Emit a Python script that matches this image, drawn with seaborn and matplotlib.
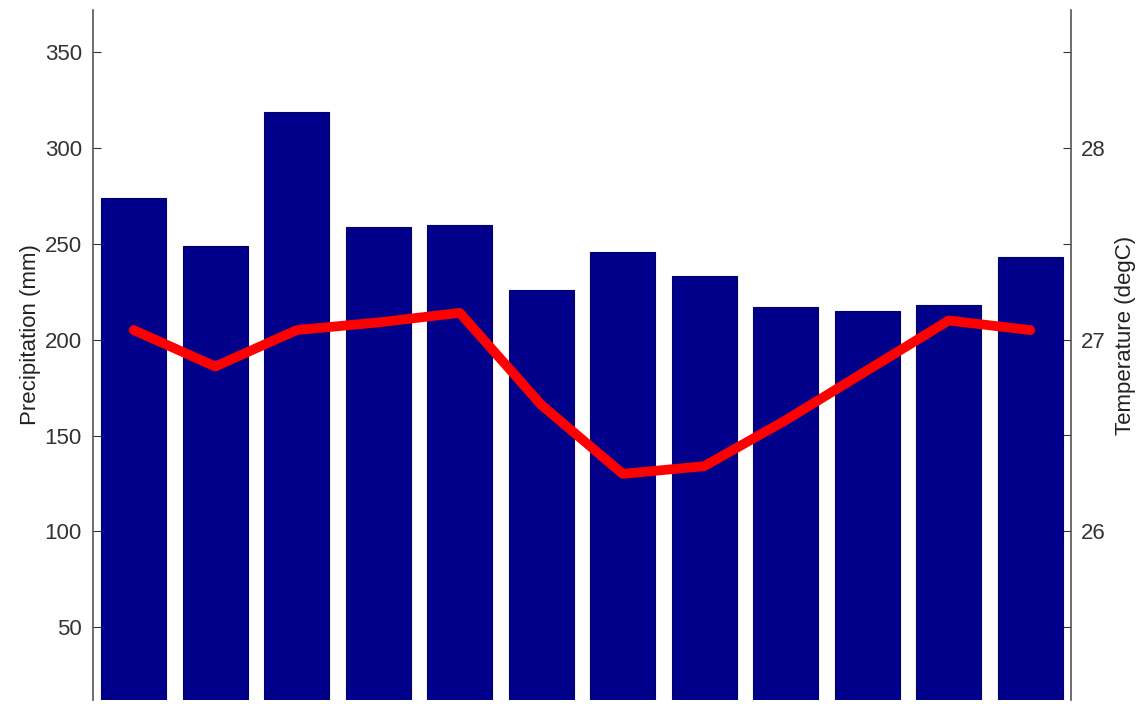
import numpy as np
import pandas as pd
import seaborn as sns
import matplotlib.pyplot as plt

# dados mensais
meses = ["Jan", "Fev", "Mar", "Abr", "Mai", "Jun", "Jul", "Ago", "Set", "Out", "Nov", "Dez"]
precipitacao = [274, 249, 319, 259, 260, 226, 246, 233, 217, 215, 218, 243]
temperatura = [27.05, 26.86, 27.05, 27.09, 27.14, 26.66, 26.30, 26.34, 26.58, 26.84, 27.10, 27.05]

df = pd.DataFrame({"mes": meses, "precip": precipitacao, "temp": temperatura})
df["pos"] = np.arange(len(df))

sns.set_style("white")
plt.rcParams["font.family"] = ["Liberation Sans", "DejaVu Sans"]

fig = plt.figure(figsize=(11.37, 7.04), dpi=100)
ax = fig.add_axes([93 / 1137, 4 / 704, (1071 - 93) / 1137, 690 / 704])

sns.barplot(data=df, x="pos", y="precip", color="#00008b", saturation=1,
            width=0.8, edgecolor="#00006a", linewidth=0.8, ax=ax)
ax.set_xlim(-0.5, 11.5)
ax.set_ylim(12, 372)
ax.set_yticks([50, 100, 150, 200, 250, 300, 350])
ax.set_xticks([])
ax.set_xlabel("")
ax.set_ylabel("Precipitation (mm)", fontsize=16, color="#222222")
ax.yaxis.set_label_coords(-0.053, 0.529)
ax.tick_params(axis="y", direction="in", length=6, labelsize=16, colors="#333333",
               labelcolor="#333333", pad=8, left=True)

ax2 = ax.twinx()
sns.lineplot(data=df, x="pos", y="temp", color="#ff0000", linewidth=7, ax=ax2)
ax2.set_ylim(25.12, 28.72)
ax2.set_yticks(np.arange(25.5, 28.6, 0.5))
ax2.set_yticklabels([f"{t:g}" if t == int(t) else "" for t in np.arange(25.5, 28.6, 0.5)])
ax2.set_xlim(-0.5, 11.5)
ax2.set_xlabel("")
ax2.set_ylabel("Temperature (degC)", fontsize=16, color="#222222")
ax2.yaxis.set_label_coords(1.045, 0.529)
ax2.tick_params(axis="y", direction="in", length=6, labelsize=16, colors="#333333",
                labelcolor="#333333", pad=7, right=True)

for a in (ax, ax2):
    for lado in ["top", "bottom"]:
        a.spines[lado].set_visible(False)
    a.spines["left"].set_color("#555555")
    a.spines["right"].set_color("#555555")
    a.spines["left"].set_linewidth(1.2)
    a.spines["right"].set_linewidth(1.2)
ax.spines["right"].set_visible(False)
ax2.spines["left"].set_visible(False)

fig.savefig("out.png", dpi=100)
